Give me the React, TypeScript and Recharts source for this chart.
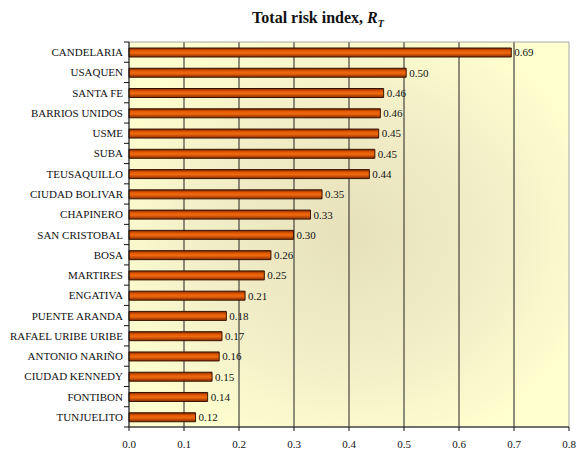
import React from 'react';
import { BarChart, Bar, XAxis, YAxis, CartesianGrid, LabelList, ReferenceArea } from 'recharts';

const districts = [
  'CANDELARIA', 'USAQUEN', 'SANTA FE', 'BARRIOS UNIDOS', 'USME', 'SUBA', 'TEUSAQUILLO',
  'CIUDAD BOLIVAR', 'CHAPINERO', 'SAN CRISTOBAL', 'BOSA', 'MARTIRES', 'ENGATIVA',
  'PUENTE ARANDA', 'RAFAEL URIBE URIBE', 'ANTONIO NARIÑO', 'CIUDAD KENNEDY', 'FONTIBON', 'TUNJUELITO',
];
const riskIndex = [
  0.695, 0.504, 0.463, 0.457, 0.454, 0.447, 0.437, 0.351, 0.330, 0.299, 0.258, 0.246, 0.211,
  0.177, 0.169, 0.164, 0.151, 0.143, 0.121,
];
const xTicks = [0, 0.1, 0.2, 0.3, 0.4, 0.5, 0.6, 0.7, 0.8];

const data = districts.map((name, i) => ({ name, value: riskIndex[i] }));

const W = 577;
const H = 450;
const TOP = 42;
const BOTTOM_AXIS = 23;
const PLOT_H = H - TOP - BOTTOM_AXIS;
const band = PLOT_H / districts.length;
const serif = '"Liberation Serif", "Times New Roman", serif';

const YTick = (props: any) => {
  const { x, y, payload, index } = props;
  const ax = x + 6;
  return (
    <g>
      <text x={x} y={y} textAnchor="end" dominantBaseline="central" fontSize={11} fill="#111" fontFamily={serif}>
        {payload.value}
      </text>
      <line x1={ax - 5} x2={ax} y1={y - band / 2} y2={y - band / 2} stroke="#111" />
      {index === districts.length - 1 && (
        <line x1={ax - 5} x2={ax} y1={y + band / 2} y2={y + band / 2} stroke="#111" />
      )}
    </g>
  );
};

export default function App() {
  return (
    <div style={{ position: 'absolute', left: 0, top: 0, width: W, height: H, background: '#fff', fontFamily: serif }}>
      <div style={{ position: 'absolute', left: 0, width: 636, top: 9, textAlign: 'center', fontWeight: 'bold', fontSize: 16, color: '#111' }}>
        Total risk index, <i>R<sub style={{ fontSize: 10 }}>T</sub></i>
      </div>
      <BarChart
        width={W}
        height={H}
        data={data}
        layout="vertical"
        margin={{ top: TOP, right: 8, bottom: 0, left: 0 }}
        barSize={9}
      >
        <defs>
          <radialGradient id="bgGrad" cx="0.5" cy="0.5" r="0.6">
            <stop offset="0%" stopColor="#e6e1ba" />
            <stop offset="55%" stopColor="#f2eec8" />
            <stop offset="100%" stopColor="#ffffcf" />
          </radialGradient>
          <linearGradient id="barGrad" x1="0" y1="0" x2="0" y2="1">
            <stop offset="0%" stopColor="#7a2600" />
            <stop offset="30%" stopColor="#e35a00" />
            <stop offset="55%" stopColor="#f06a10" />
            <stop offset="100%" stopColor="#8a2c00" />
          </linearGradient>
        </defs>
        <CartesianGrid
          horizontal={false}
          stroke="#222"
          fill="url(#bgGrad)"
          fillOpacity={1}
          verticalValues={[0.1, 0.2, 0.3, 0.4, 0.5, 0.6, 0.7]}
        />
        <ReferenceArea x1={0} x2={0.8} fill="none" stroke="#a8a8a8" ifOverflow="visible" />
        <XAxis
          type="number"
          domain={[0, 0.8]}
          ticks={xTicks}
          tickFormatter={(v: number) => v.toFixed(1)}
          axisLine={{ stroke: '#111' }}
          tickLine={{ stroke: '#111' }}
          tickSize={4}
          tickMargin={9}
          height={BOTTOM_AXIS}
          tick={{ fontSize: 11, fill: '#111', fontFamily: serif }}
        />
        <YAxis
          type="category"
          dataKey="name"
          width={129}
          axisLine={{ stroke: '#111' }}
          tickLine={false}
          tickSize={0}
          tickMargin={6}
          interval={0}
          tick={<YTick />}
        />
        <Bar dataKey="value" fill="url(#barGrad)" stroke="#3a1400" strokeWidth={1} isAnimationActive={false}>
          <LabelList
            dataKey="value"
            position="right"
            offset={3}
            formatter={(v: any) => Number(v).toFixed(2)}
            style={{ fontSize: 11, fill: '#111', fontFamily: serif }}
          />
        </Bar>
      </BarChart>
    </div>
  );
}
